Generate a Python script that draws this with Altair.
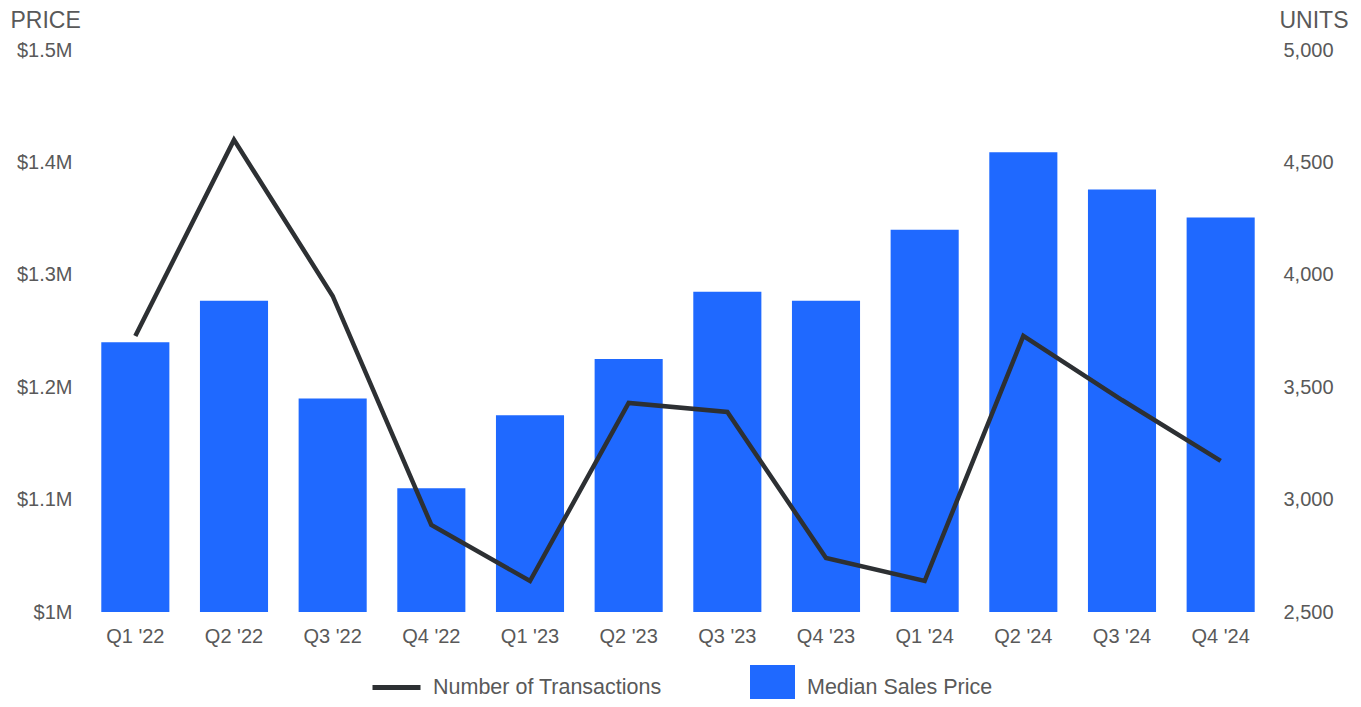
import altair as alt
import pandas as pd

quarters = ["Q1 '22", "Q2 '22", "Q3 '22", "Q4 '22", "Q1 '23", "Q2 '23",
            "Q3 '23", "Q4 '23", "Q1 '24", "Q2 '24", "Q3 '24", "Q4 '24"]
median_price = [1240000, 1277000, 1190000, 1110000, 1175000, 1225000,
                1285000, 1277000, 1340000, 1409000, 1376000, 1351000]
transactions = [3728, 4600, 3906, 2887, 2638, 3430,
                3390, 2740, 2638, 3728, 3443, 3172]

df = pd.DataFrame({"quarter": quarters, "price": median_price, "units": transactions})

FONT = "Liberation Sans"
GREY = "#595959"
BLUE = "#1F69FF"
DARK = "#2D3033"

x_enc = alt.X("quarter:N", sort=quarters, title=None,
              scale=alt.Scale(paddingInner=0.31, paddingOuter=0.155),
              axis=alt.Axis(labelAngle=0, domain=False, ticks=False, labelPadding=14,
                            labelFontSize=20, labelColor=GREY, labelFont=FONT))

bars = alt.Chart(df).transform_calculate(series="'Median Sales Price'").mark_bar(clip=True).encode(
    x=x_enc,
    y=alt.Y("price:Q", scale=alt.Scale(domain=[1000000, 1500000], zero=False, nice=False),
            axis=alt.Axis(title="PRICE", titleAngle=0, titleAlign="left", titleBaseline="alphabetic",
                          titleX=-76, titleY=-23, titleFontSize=23, titleFontWeight="normal",
                          titleColor=GREY, titleFont=FONT,
                          values=[1000000, 1100000, 1200000, 1300000, 1400000, 1500000],
                          labelExpr="'$' + (datum.value / 1000000) + 'M'",
                          domain=False, ticks=False, grid=False, labelPadding=14,
                          labelFontSize=20, labelColor=GREY, labelFont=FONT)),
    fill=alt.Fill("series:N", scale=alt.Scale(domain=["Median Sales Price"], range=[BLUE]),
                  legend=alt.Legend(title=None, orient="none", legendX=664, legendY=615,
                                    symbolType="square", symbolSize=2025, symbolStrokeWidth=0,
                                    labelFontSize=21.5, labelColor=GREY, labelFont=FONT,
                                    labelOffset=12, labelLimit=500, padding=0)),
)

line = alt.Chart(df).transform_calculate(series2="'Number of Transactions'").mark_line(
    strokeWidth=4.5, strokeJoin="miter").encode(
    x=alt.X("quarter:N", sort=quarters),
    y=alt.Y("units:Q", scale=alt.Scale(domain=[2500, 5000], zero=False, nice=False),
            axis=alt.Axis(orient="right", title="UNITS", titleAngle=0, titleAlign="right",
                          titleBaseline="alphabetic", titleX=78, titleY=-23, titleFontSize=23,
                          titleFontWeight="normal", titleColor=GREY, titleFont=FONT,
                          values=[2500, 3000, 3500, 4000, 4500, 5000], format=",d",
                          domain=False, ticks=False, grid=False, labelPadding=13,
                          labelFontSize=20, labelColor=GREY, labelFont=FONT)),
    stroke=alt.Stroke("series2:N", scale=alt.Scale(domain=["Number of Transactions"], range=[DARK]),
                      legend=alt.Legend(title=None, orient="none", legendX=284, legendY=611,
                                        symbolType="stroke", symbolSize=2304, symbolStrokeWidth=5,
                                        labelFontSize=21.5, labelColor=GREY, labelFont=FONT,
                                        labelOffset=10, labelLimit=500, padding=0)),
)

chart = alt.layer(bars, line).resolve_scale(y="independent", fill="independent", stroke="independent").properties(
    width=1184, height=562,
    autosize=alt.AutoSizeParams(type="none"),
    padding={"left": 78, "top": 42, "right": 83, "bottom": 87},
).configure_view(stroke=None).configure_axis(grid=False)

chart.save("out.html", embed_options={"renderer": "svg", "actions": False})
